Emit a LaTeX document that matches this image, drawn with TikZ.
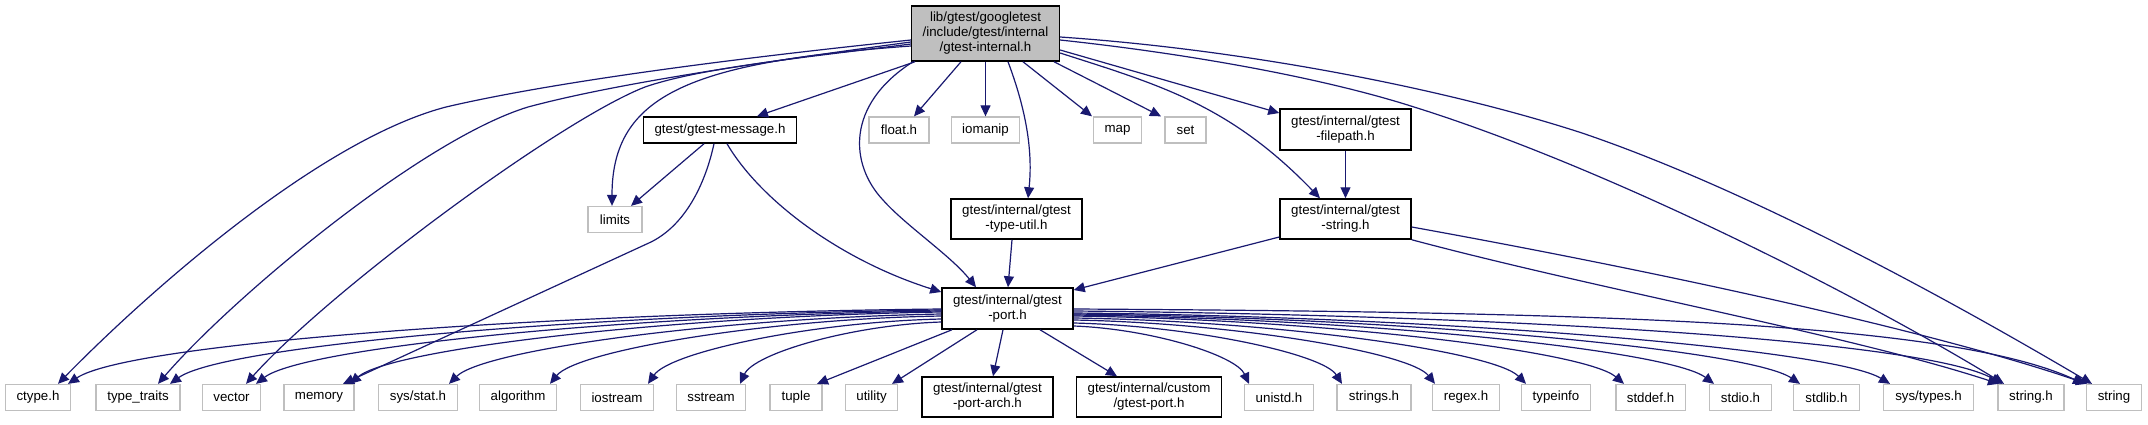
\documentclass[tikz,border=0pt]{standalone}
\usepackage{fontspec}
\setmainfont{Liberation Sans}
\usetikzlibrary{arrows.meta}
\definecolor{navy}{RGB}{25,25,112}
\definecolor{lgray}{RGB}{191,191,191}
\begin{document}
\begin{tikzpicture}[x=1pt,y=-1pt,
  base/.style={rectangle, inner xsep=11pt, inner ysep=0pt, align=center, font=\fontsize{13.3pt}{15pt}\selectfont},
  gbox/.style={base, draw=lgray, line width=1.3pt, minimum height=26pt},
  bbox/.style={base, draw=black, line width=1.5pt},
  dep/.style={draw=navy, line width=1.2pt, -{Triangle[length=11pt,width=10pt]}}]
\fill[white] (0,0) rectangle (2148,424);
\useasboundingbox (0,0) rectangle (2148,424);

% nodes
\node[bbox, fill=lgray, minimum width=147pt, minimum height=55pt] (main) at (985.5,33.5) {lib/gtest/googletest\\/include/gtest/internal\\/gtest-internal.h};
\node[bbox, minimum width=152pt, minimum height=26pt] (message) at (720,130) {gtest/gtest-message.h};
\node[gbox, minimum width=60pt] (float) at (899,130) {float.h};
\node[gbox, minimum width=67pt] (iomanip) at (985.5,130) {iomanip};
\node[gbox, minimum width=47pt] (map) at (1117.5,130) {map};
\node[gbox, minimum width=41pt] (set) at (1185.5,130) {set};
\node[bbox, minimum width=131pt, minimum height=41pt] (filepath) at (1345.5,129.5) {gtest/internal/gtest\\-filepath.h};
\node[gbox, minimum width=54pt] (limits) at (615,219.5) {limits};
\node[bbox, minimum width=131pt, minimum height=40pt] (typeutil) at (1016.5,219) {gtest/internal/gtest\\-type-util.h};
\node[bbox, minimum width=131pt, minimum height=40pt] (gstring) at (1345.5,219) {gtest/internal/gtest\\-string.h};
\node[bbox, minimum width=131pt, minimum height=41pt] (port) at (1007.5,308.5) {gtest/internal/gtest\\-port.h};

\node[gbox, minimum width=64pt] (ctype) at (38,397.5) {ctype.h};
\node[gbox, minimum width=84pt] (type_traits) at (138,397.5) {type\_traits};
\node[gbox, minimum width=58pt] (vector) at (231.5,397.5) {vector};
\node[gbox, minimum width=69pt] (memory) at (319,397.5) {memory};
\node[gbox, minimum width=79pt] (sysstat) at (418,397.5) {sys/stat.h};
\node[gbox, minimum width=72pt] (algorithm) at (518,397.5) {algorithm};
\node[gbox, minimum width=72pt] (iostream) at (617,397.5) {iostream};
\node[gbox, minimum width=68pt] (sstream) at (711,397.5) {sstream};
\node[gbox, minimum width=52pt] (tuple) at (796,397.5) {tuple};
\node[gbox, minimum width=52pt] (utility) at (871.5,397.5) {utility};
\node[bbox, minimum width=131pt, minimum height=40pt] (portarch) at (987.5,397) {gtest/internal/gtest\\-port-arch.h};
\node[bbox, minimum width=144pt, minimum height=40pt] (custom) at (1149,397) {gtest/internal/custom\\/gtest-port.h};
\node[gbox, minimum width=68pt] (unistd) at (1279,397.5) {unistd.h};
\node[gbox, minimum width=74pt] (strings) at (1374,397.5) {strings.h};
\node[gbox, minimum width=66pt] (regex) at (1466,397.5) {regex.h};
\node[gbox, minimum width=68pt] (typeinfo) at (1556,397.5) {typeinfo};
\node[gbox, minimum width=67pt] (stddef) at (1650.5,397.5) {stddef.h};
\node[gbox, minimum width=62pt] (stdio) at (1740.5,397.5) {stdio.h};
\node[gbox, minimum width=66pt] (stdlib) at (1826.5,397.5) {stdlib.h};
\node[gbox, minimum width=90pt] (systypes) at (1928.5,397.5) {sys/types.h};
\node[gbox, minimum width=66pt] (stringh) at (2031,397.5) {string.h};
\node[gbox, minimum width=54pt] (string) at (2114,397.5) {string};

% edges from main
\draw[dep] (main.west |- 0,40) .. controls (700,62) and (540,85) .. (446,107) .. controls (320,140) and (150,290) .. (ctype.north -| 58,0);
\draw[dep] (main.west |- 0,42) .. controls (740,65) and (610,85) .. (528,107) .. controls (420,140) and (230,300) .. (type_traits.north -| 158,0);
\draw[dep] (main.west |- 0,44) .. controls (800,58) and (700,68) .. (645,87) .. controls (560,120) and (330,290) .. (vector.north -| 246,0);
\draw[dep] (main.west |- 0,46) .. controls (690,62) and (612,95) .. (limits.north -| 612,0);
\draw[dep] (main.south -| 915,0) -- (message.north -| 757,0);
\draw[dep] (main.south -| 913,0) .. controls (845,105) and (850,165) .. (883,200) .. controls (905,225) and (950,255) .. (port.north -| 976,0);
\draw[dep] (main.south -| 961,0) -- (float.north -| 914,0);
\draw[dep] (main.south) -- (iomanip.north);
\draw[dep] (main.south -| 1008,0) .. controls (1030,120) and (1032,160) .. (typeutil.north -| 1028,0);
\draw[dep] (main.south -| 1023,0) -- (map.north -| 1092,0);
\draw[dep] (main.south -| 1054,0) -- (set.north -| 1161,0);
\draw[dep] (main.east |- 0,50) -- (filepath.west |- 0,113);
\draw[dep] (main.east |- 0,53) .. controls (1160,85) and (1230,105) .. (gstring.north -| 1320,0);
\draw[dep] (main.east |- 0,40) .. controls (1200,55) and (1330,80) .. (1414,107) .. controls (1600,165) and (1850,290) .. (stringh.north -| 2004,0);
\draw[dep] (main.east |- 0,37) .. controls (1250,50) and (1450,90) .. (1582,133) .. controls (1750,190) and (1950,300) .. (string.north -| 2092,0);

% other upper edges
\draw[dep] (message.south -| 704,0) -- (limits.north -| 631,0);
\draw[dep] (message.south -| 714,0) .. controls (705,185) and (685,225) .. (651,242) -- (memory.north -| 343,0);
\draw[dep] (message.south -| 727,0) .. controls (760,200) and (840,260) .. (port.west |- 0,292);
\draw[dep] (filepath) -- (gstring);
\draw[dep] (typeutil.south -| 1012,0) -- (port.north -| 1008,0);
\draw[dep] (gstring.west |- 0,237) -- (port.east |- 0,290);
\draw[dep] (gstring.south east) .. controls (1600,290) and (1850,335) .. (stringh.north -| 1999,0);
\draw[dep] (gstring.east |- 0,227) .. controls (1650,270) and (1930,330) .. (string.north -| 2087,0);

% edges from port
\draw[dep] (port.west |- 0,309) .. controls (549,313) and (129,343) .. (ctype.north -| 68,0);
\draw[dep] (port.west |- 0,310) .. controls (595,314) and (224,345) .. (type_traits.north -| 170,0);
\draw[dep] (port.west |- 0,311) .. controls (633,315) and (304,347) .. (vector.north -| 256,0);
\draw[dep] (port.west |- 0,312) .. controls (676,316) and (391,348.5) .. (memory.north -| 350,0);
\draw[dep] (port.west |- 0,314) .. controls (720,318) and (484,349.5) .. (sysstat.north -| 449,0);
\draw[dep] (port.west |- 0,316) .. controls (766,319) and (577,350.5) .. (algorithm.north -| 550,0);
\draw[dep] (port.west |- 0,319) .. controls (811,322) and (670,352) .. (iostream.north -| 648,0);
\draw[dep] (port.west |- 0,322) .. controls (851,325) and (754,353.5) .. (sstream.north -| 740,0);
\draw[dep] (port.south -| 952,0) -- (tuple.north -| 817,0);
\draw[dep] (port.south -| 977,0) -- (utility.north -| 892,0);
\draw[dep] (port.south -| 1003,0) -- (portarch.north -| 993,0);
\draw[dep] (port.south -| 1040,0) -- (custom.north -| 1117,0);
\draw[dep] (port.east |- 0,326) .. controls (1152,329) and (1236,355.5) .. (unistd.north -| 1249,0);
\draw[dep] (port.east |- 0,323) .. controls (1194,326) and (1323,354) .. (strings.north -| 1342,0);
\draw[dep] (port.east |- 0,320) .. controls (1235,323) and (1410,352.5) .. (regex.north -| 1435,0);
\draw[dep] (port.east |- 0,318) .. controls (1277,321) and (1494,351.5) .. (typeinfo.north -| 1526,0);
\draw[dep] (port.east |- 0,316) .. controls (1321,319.5) and (1585,350.5) .. (stddef.north -| 1624,0);
\draw[dep] (port.east |- 0,315) .. controls (1361,318.5) and (1669,350) .. (stdio.north -| 1714,0);
\draw[dep] (port.east |- 0,314) .. controls (1400,317.5) and (1749,349.5) .. (stdlib.north -| 1800,0);
\draw[dep] (port.east |- 0,313) .. controls (1441,316.6) and (1833,349) .. (systypes.north -| 1890,0);
\draw[dep] (port.east |- 0,311) .. controls (1500,315) and (1925,340) .. (stringh.north -| 2002,0);
\draw[dep] (port.east |- 0,309) .. controls (1600,312) and (1950,322) .. (string.north -| 2084,0);
\end{tikzpicture}
\end{document}
